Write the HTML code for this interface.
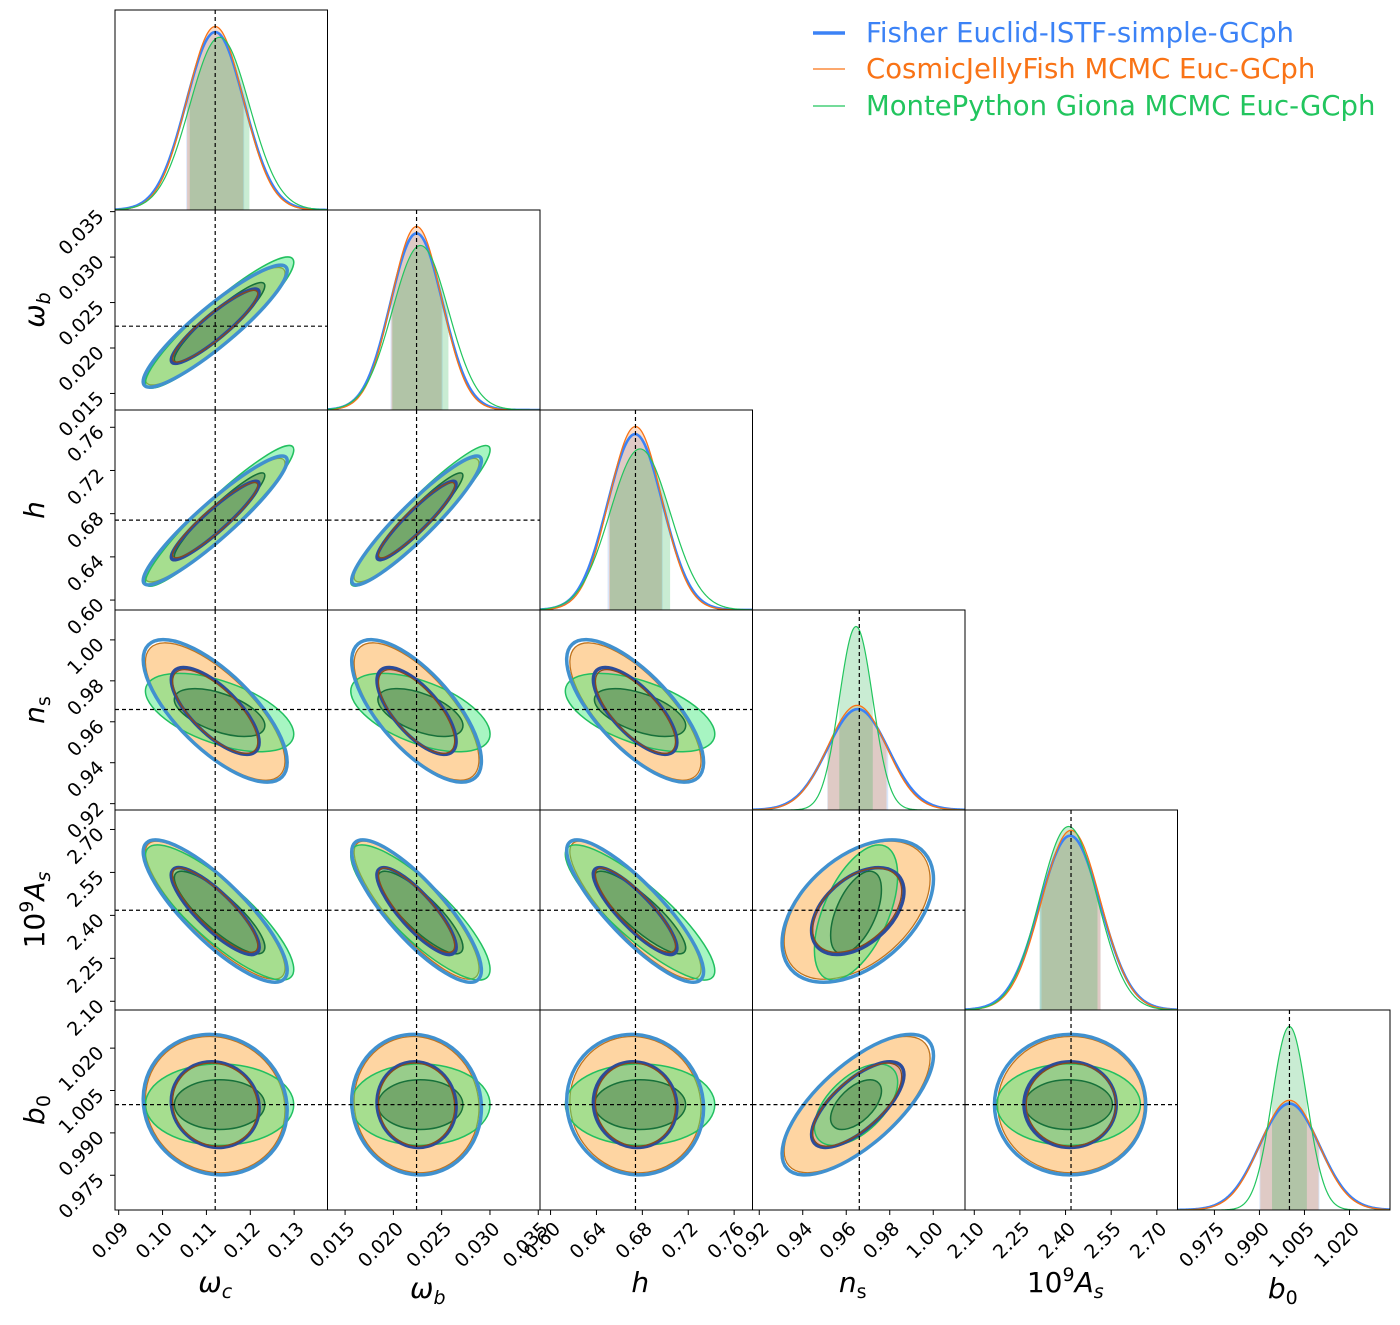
<!DOCTYPE html>
<html><head><meta charset="utf-8"><style>
html,body{margin:0;padding:0;background:#fff;}
svg{display:block;font-family:"DejaVu Sans","Liberation Sans",sans-serif;}
</style></head><body>
<svg id="chart" width="1400" height="1325" viewBox="0 0 1400 1325" xmlns="http://www.w3.org/2000/svg">
<g>
<line x1="813" y1="33" x2="845" y2="33" stroke="#3b82f6" stroke-width="3.5"/>
<text x="866" y="42" font-size="27.5" fill="#3b82f6">Fisher Euclid-ISTF-simple-GCph</text>
<line x1="813" y1="69" x2="845" y2="69" stroke="#f97316" stroke-width="1.2"/>
<text x="866" y="78" font-size="27.5" fill="#f97316">CosmicJellyFish MCMC Euc-GCph</text>
<line x1="813" y1="106" x2="845" y2="106" stroke="#22c55e" stroke-width="1.2"/>
<text x="866" y="115" font-size="27.5" fill="#22c55e">MontePython Giona MCMC Euc-GCph</text>
</g>
</svg>
<script>
// ---- data ----
const paramNames = ['wc','wb','h','ns','As','b0'];
const fiducial = [0.1120, 0.0224, 0.674, 0.966, 2.418, 1.000];
const fisherMean = [0.1120, 0.0224, 0.6737, 0.9653, 2.415, 1.000];
const fisherSigma = [0.0066, 0.0027, 0.0240, 0.0140, 0.100, 0.0100];
const cjfMean = [0.1120, 0.0224, 0.6740, 0.9650, 2.418, 1.000];
const cjfSigma = [0.0064, 0.0026, 0.0230, 0.0135, 0.097, 0.0097];
const mpMean = [0.1130, 0.0228, 0.6780, 0.9645, 2.410, 1.000];
const mpSigma = [0.0068, 0.0029, 0.0262, 0.0077, 0.095, 0.0058];
const fisherCorr = [[0.91],[0.93,0.93],[-0.72,-0.70,-0.72],[-0.83,-0.83,-0.85,0.45],[-0.08,-0.05,-0.05,0.70,0.0]];
const cjfCorr = [[0.90],[0.92,0.92],[-0.72,-0.70,-0.72],[-0.84,-0.84,-0.85,0.45],[-0.08,-0.05,-0.05,0.68,0.0]];
const mpCorr = [[0.92],[0.94,0.94],[-0.55,-0.55,-0.55],[-0.84,-0.84,-0.86,0.55],[0.0,0.0,0.0,0.55,0.0]];
const ticksWc = [0.09,0.10,0.11,0.12,0.13];
const ticksWb = [0.015,0.020,0.025,0.030,0.035];
const ticksH = [0.60,0.64,0.68,0.72,0.76];
const ticksNs = [0.92,0.94,0.96,0.98,1.00];
const ticksAs = [2.10,2.25,2.40,2.55,2.70];
const ticksB0 = [0.975,0.990,1.005,1.020];
const tickDecimals = [2,3,2,2,2,3];
const allTicks = [ticksWc,ticksWb,ticksH,ticksNs,ticksAs,ticksB0];
// ---- layout ----
const ranges = [[0.08916,0.1376],[0.01318,0.03518],[0.5908,0.776],[0.9169,1.0146],[2.0695,2.768],[0.9627,1.0335]];
const X0=115, Y0=10, PW=212.5, PH=200;
const svg=document.getElementById('chart');
const NS='http://www.w3.org/2000/svg';
function mk(tag,attrs,parent){const e=document.createElementNS(NS,tag);for(const k in attrs)e.setAttribute(k,attrs[k]);(parent||svg).appendChild(e);return e;}
function xs(i,c,v){const r=ranges[i];return X0+c*PW+(v-r[0])/(r[1]-r[0])*PW;}
function ys(j,r,v){const g=ranges[j];return Y0+(r+1)*PH-(v-g[0])/(g[1]-g[0])*PH;}
function corr(C,i,j){return C[j-1][i];}
const labelsTex=['<tspan font-style="italic">ω</tspan><tspan font-style="italic" font-size="19" dy="6">c</tspan>',
 '<tspan font-style="italic">ω</tspan><tspan font-style="italic" font-size="19" dy="6">b</tspan>',
 '<tspan font-style="italic">h</tspan>',
 '<tspan font-style="italic">n</tspan><tspan font-size="19" dy="6">s</tspan>',
 '10<tspan font-size="19" dy="-11">9</tspan><tspan font-style="italic" dy="11">A</tspan><tspan font-style="italic" font-size="19" dy="6">s</tspan>',
 '<tspan font-style="italic">b</tspan><tspan font-size="19" dy="6">0</tspan>'];

function ellipse(g,cx,cy,sx,sy,rho,k,attrs,name){
  const a=sx*sx,d=sy*sy,b=-rho*sx*sy;
  const m=(a+d)/2, q=Math.sqrt(((a-d)/2)**2+b*b);
  const l1=m+q,l2=Math.max(m-q,1e-6);
  const th=0.5*Math.atan2(2*b,a-d)*180/Math.PI;
  const e=mk('ellipse',Object.assign({cx:cx,cy:cy,rx:k*Math.sqrt(l1),ry:k*Math.sqrt(l2),transform:`rotate(${th} ${cx} ${cy})`},attrs),g);
  
  
  return e;
}
const K1=Math.sqrt(2.30),K2=Math.sqrt(6.18);
const sets=[
 {key:'cjf',mean:cjfMean,sig:cjfSigma,C:cjfCorr},
 {key:'mp',mean:mpMean,sig:mpSigma,C:mpCorr},
 {key:'fisher',mean:fisherMean,sig:fisherSigma,C:fisherCorr}
];

for(let r=0;r<6;r++){
 for(let c=0;c<=r;c++){
  const px=X0+c*PW, py=Y0+r*PH;
  const g=mk('g',{});
  
  
  const cid=`clip${r}${c}`;
  const cp=mk('clipPath',{id:cid},g);mk('rect',{x:px,y:py,width:PW,height:PH},cp);
  const inner=mk('g',{'clip-path':`url(#${cid})`},g);
  if(r!==c){
   const i=c,j=r;
   const geo=sets.map(s=>({cx:xs(i,c,s.mean[i]),cy:ys(j,r,s.mean[j]),sx:s.sig[i]*PW/(ranges[i][1]-ranges[i][0]),sy:s.sig[j]*PH/(ranges[j][1]-ranges[j][0]),rho:corr(s.C,i,j)}));
   const [o,gr,f]=geo;
   ellipse(inner,o.cx,o.cy,o.sx,o.sy,o.rho,K2,{fill:'#fed5a2',stroke:'none'},'cjf-contour-2sigma');
   ellipse(inner,o.cx,o.cy,o.sx,o.sy,o.rho,K1,{fill:'#e4b69c',stroke:'none'},'cjf-contour-1sigma');
   ellipse(inner,o.cx,o.cy,o.sx,o.sy,o.rho,K2,{fill:'none',stroke:'#c0741e','stroke-width':1.3},'cjf-outline-2sigma');
   ellipse(inner,gr.cx,gr.cy,gr.sx,gr.sy,gr.rho,K2,{fill:'rgba(60,232,120,0.45)',stroke:'#22c060','stroke-width':1.5},'mp-contour-2sigma');
   ellipse(inner,gr.cx,gr.cy,gr.sx,gr.sy,gr.rho,K1,{fill:'rgba(40,90,40,0.32)',stroke:'#17703a','stroke-width':1.5},'mp-contour-1sigma');
   ellipse(inner,f.cx,f.cy,f.sx,f.sy,f.rho,K2,{fill:'none',stroke:'#4191cf','stroke-width':3.5},'fisher-contour-2sigma');
   ellipse(inner,f.cx,f.cy,f.sx,f.sy,f.rho,K1,{fill:'none',stroke:'#2b4c9b','stroke-width':3.5},'fisher-contour-1sigma');
   ellipse(inner,o.cx,o.cy,o.sx,o.sy,o.rho,K1,{fill:'none',stroke:'#8a4a1a','stroke-width':1.3},'cjf-outline-1sigma');
   const hy=ys(j,r,fiducial[j]);
   const hl=mk('line',{x1:px,x2:px+PW,y1:hy,y2:hy,stroke:'#000','stroke-width':1.2,'stroke-dasharray':'4,3'},inner);
   
   
  } else {
   const i=c;
   const peak=Math.max(...sets.map(s=>1/s.sig[i]));
   const ymax=peak*1.09;
   const styles={cjf:{col:'#f97316',w:1.3,sh:'rgba(240,120,40,0.25)'},mp:{col:'#22c55e',w:1.2,sh:'rgba(40,180,80,0.25)'},fisher:{col:'#3b82f6',w:2.6,sh:'rgba(70,130,230,0.2)'}};
   const order=['fisher','cjf','mp'];
   const curves={};
   order.forEach(key=>{
    const s=sets.find(t=>t.key===key);
    const m=s.mean[i],sg=s.sig[i];
    const pdf=v=>Math.exp(-0.5*((v-m)/sg)**2)/sg;
    const yy=v=>py+PH-pdf(v)/ymax*PH;
    let d='',sd=`M${xs(i,c,m-sg)},${py+PH}`;
    const N=220;
    for(let n=0;n<=N;n++){const v=ranges[i][0]+(ranges[i][1]-ranges[i][0])*n/N;d+=(n?'L':'M')+xs(i,c,v).toFixed(2)+','+yy(v).toFixed(2);}
    for(let n=0;n<=60;n++){const v=m-sg+2*sg*n/60;sd+='L'+xs(i,c,v).toFixed(2)+','+yy(v).toFixed(2);}
    sd+=`L${xs(i,c,m+sg)},${py+PH}Z`;
    const sh=mk('path',{d:sd,fill:styles[key].sh,stroke:'none'},inner);
    
    
    curves[key]=d;
   });
   order.forEach(key=>{
    const p=mk('path',{d:curves[key],fill:'none',stroke:styles[key].col,'stroke-width':styles[key].w},inner);
    
    
   });
  }
  const vx=xs(c,c,fiducial[c]);
  const vl=mk('line',{x1:vx,x2:vx,y1:py,y2:py+PH,stroke:'#000','stroke-width':1.2,'stroke-dasharray':'4,3'},inner);
  
  
  const fr=mk('rect',{x:px,y:py,width:PW,height:PH,fill:'none',stroke:'#000','stroke-width':1},g);
  
  
 }
}
// bottom axes
for(let c=0;c<6;c++){
 const by=Y0+6*PH;
 const ax=mk('g',{});
 
 
 allTicks[c].forEach(t=>{
  const x=xs(c,c,t);
  mk('line',{x1:x,x2:x,y1:by,y2:by+5,stroke:'#000','stroke-width':1},ax);
  const ax0=x+11, ay0=by+20;
  const tx=mk('text',{x:ax0,y:ay0,'font-size':19,'text-anchor':'end',transform:`rotate(-45 ${ax0} ${ay0})`,fill:'#000'},ax);
  tx.textContent=t.toFixed(tickDecimals[c]);
  
  
 });
 const lab=mk('text',{x:X0+c*PW+PW/2+(c===5?5:0)-6,y:c===1||c===5?1298:1292,'font-size':28,'text-anchor':'middle'},ax);
 lab.innerHTML=labelsTex[c];
 
 
}
// left axes
for(let r=1;r<6;r++){
 const ay=mk('g',{});
 
 
 allTicks[r].forEach(t=>{
  const y=ys(r,r,t);
  mk('line',{x1:X0-5,x2:X0,y1:y,y2:y,stroke:'#000','stroke-width':1},ay);
  const ax0=X0-10, ay0=y+6;
  const tx=mk('text',{x:ax0,y:ay0,'font-size':19,'text-anchor':'end',transform:`rotate(-45 ${ax0} ${ay0})`,fill:'#000'},ay);
  tx.textContent=t.toFixed(tickDecimals[r]);
  
  
 });
 const cy=Y0+r*PH+PH/2;
 const lab=mk('text',{x:cy,y:-38,'font-size':28,'text-anchor':'middle',transform:`rotate(-90) translate(${-2*cy} 0)`},ay);
 lab.setAttribute('x',cy);
 lab.setAttribute('transform',`translate(44 ${cy}) rotate(-90)`);
 lab.setAttribute('x',0);
 lab.setAttribute('y',0);
 lab.innerHTML=labelsTex[r];
 
 
}
</script>
</body></html>
